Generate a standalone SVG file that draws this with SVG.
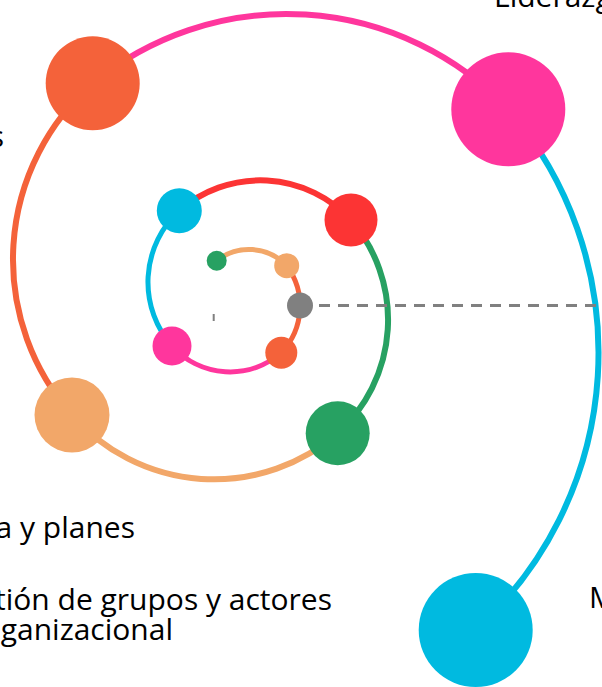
<svg xmlns="http://www.w3.org/2000/svg" width="602" height="687" viewBox="0 0 602 687">
  <style>
    .arc { fill: none; stroke-linecap: butt; }
    .outer { stroke-width: 6; }
    .inner { stroke-width: 5; }
    .lbl { font-family: "Open Sans", "Noto Sans", sans-serif; font-size: 30px; fill: #000000; }
    .dash { stroke: #808080; stroke-width: 3; stroke-dasharray: 11 8; fill: none; }
  </style>
  <rect x="0" y="0" width="602" height="687" fill="#ffffff"/>
  <g id="connectors">
    <path class="arc inner" stroke="#F2A769" d="M216.7,260.7 A52,52 0 0 1 286.7,265.7"/>
    <path class="arc inner" stroke="#F4623A" d="M286.7,265.7 A67.7,67.7 0 0 1 281.3,352.7"/>
    <path class="arc inner" stroke="#FF369D" d="M281.3,352.7 A78,78 0 0 1 172,346"/>
    <path class="arc inner" stroke="#00BAE0" d="M172,346 A97,97 0 0 1 179.3,210.7"/>
    <path class="arc outer" stroke="#FC3434" d="M179.3,210.7 A123.5,123.5 0 0 1 351,220"/>
    <path class="arc outer" stroke="#27A162" d="M351,220 A153,153 0 0 1 337.7,433.3"/>
    <path class="arc outer" stroke="#F2A769" d="M337.7,433.3 A189,189 0 0 1 72,415"/>
    <path class="arc outer" stroke="#F4623A" d="M72,415 A234.5,234.5 0 0 1 92.7,83.3"/>
    <path class="arc outer" stroke="#FF369D" d="M92.7,83.3 A305.6,305.6 0 0 1 508.3,109.3"/>
    <path class="arc outer" stroke="#00BAE0" d="M508.3,109.3 A374,374 0 0 1 475.7,630"/>
    <line class="dash" x1="300" y1="305.5" x2="602" y2="305.5"/>
    <line x1="213.7" y1="314" x2="213.7" y2="321" stroke="#808080" stroke-width="2"/>
  </g>
  <g id="node-center"><circle cx="300" cy="305.5" r="13" fill="#808080"/></g>
  <g id="node-1"><circle cx="216.7" cy="260.7" r="10" fill="#27A162"/></g>
  <g id="node-2"><circle cx="286.7" cy="265.7" r="12.5" fill="#F2A769"/></g>
  <g id="node-3"><circle cx="281.3" cy="352.7" r="16" fill="#F4623A"/></g>
  <g id="node-4"><circle cx="172" cy="346" r="19.5" fill="#FF369D"/></g>
  <g id="node-5"><circle cx="179.3" cy="210.7" r="22.5" fill="#00BAE0"/></g>
  <g id="node-6"><circle cx="351" cy="220" r="26.5" fill="#FC3434"/></g>
  <g id="node-7"><circle cx="337.7" cy="433.3" r="32" fill="#27A162"/></g>
  <g id="node-8"><circle cx="72" cy="415" r="37.5" fill="#F2A769"/>
    <text class="lbl" x="135" y="538" text-anchor="end">a y planes</text></g>
  <g id="node-9"><circle cx="92.7" cy="83.3" r="47" fill="#F4623A"/>
    <text class="lbl" x="4" y="147" text-anchor="end">s</text></g>
  <g id="node-10"><circle cx="508.3" cy="109.3" r="57" fill="#FF369D"/>
    <text class="lbl" x="494" y="7">Liderazg</text></g>
  <g id="node-11"><circle cx="475.7" cy="630" r="57" fill="#00BAE0"/>
    <text class="lbl" x="589" y="608">M</text></g>
  <g id="labels">
    <text class="lbl" x="332" y="610" text-anchor="end">tión de grupos y actores</text>
    <text class="lbl" x="173" y="640" text-anchor="end">ganizacional</text>
  </g>
</svg>
